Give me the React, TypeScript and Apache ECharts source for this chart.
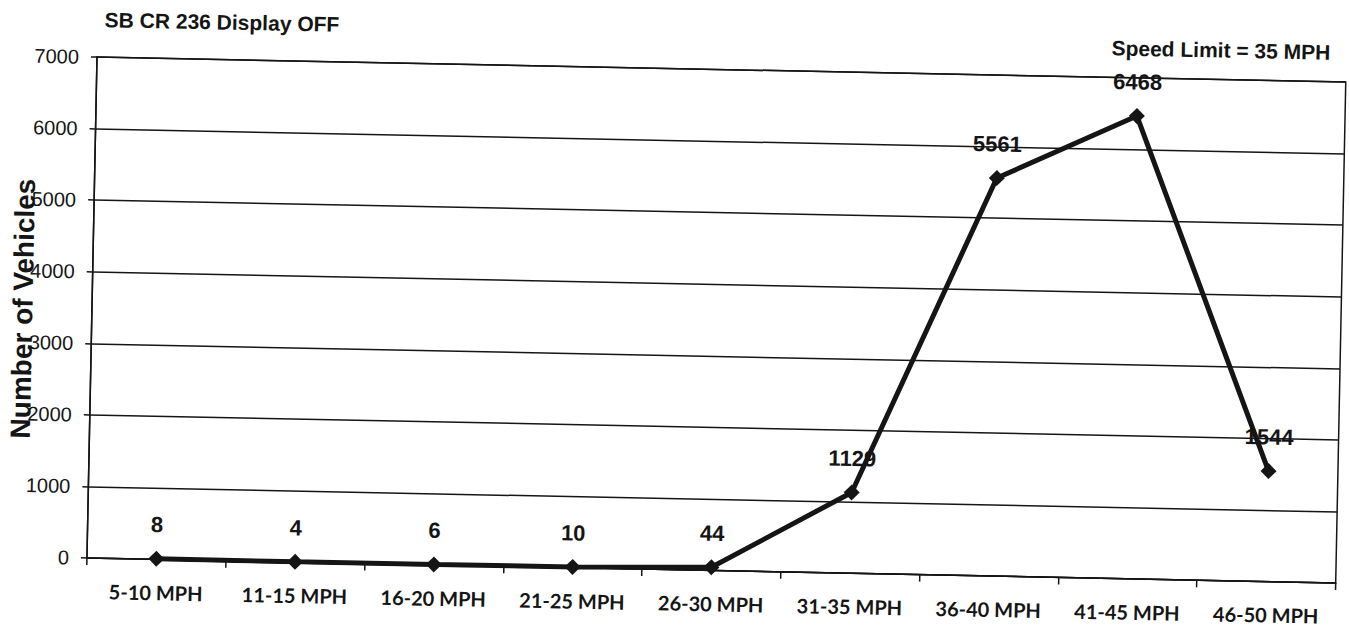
import React, { useEffect, useRef } from "react";
import * as echarts from "echarts";

const categories = [
  "5-10 MPH",
  "11-15 MPH",
  "16-20 MPH",
  "21-25 MPH",
  "26-30 MPH",
  "31-35 MPH",
  "36-40 MPH",
  "41-45 MPH",
  "46-50 MPH",
];
const vehicleCounts = [8, 4, 6, 10, 44, 1129, 5561, 6468, 1544];
const chartTitle = "SB CR 236 Display OFF";
const speedLimitNote = "Speed Limit = 35 MPH";
const yAxisTitle = "Number of Vehicles";

export default function App() {
  const ref = useRef<HTMLDivElement>(null);

  useEffect(() => {
    if (!ref.current) return;
    const chart = echarts.init(ref.current, undefined, { renderer: "svg" });
    const ink = "#151515";
    chart.setOption({
      animation: false,
      backgroundColor: "#ffffff",
      title: [
        {
          text: chartTitle,
          left: 99,
          top: 4,
          textStyle: { fontFamily: "Liberation Sans", fontWeight: "bold", fontSize: 21, color: ink },
        },
        {
          text: speedLimitNote,
          right: 14,
          top: 12,
          textStyle: { fontFamily: "Liberation Sans", fontWeight: "bold", fontSize: 21, color: ink },
        },
      ],
      graphic: [
        {
          type: "text",
          x: 28,
          y: 310,
          rotation: Math.PI / 2,
          style: {
            text: yAxisTitle,
            fontFamily: "Liberation Sans",
            fontWeight: "bold",
            fontSize: 28,
            fill: ink,
            align: "center",
            verticalAlign: "middle",
          },
        },
      ],
      grid: {
        left: 97,
        top: 57,
        width: 1249,
        height: 501,
        outerBoundsMode: "none",
        containLabel: false,
        show: true,
        borderColor: ink,
        borderWidth: 1.5,
        backgroundColor: "transparent",
      },
      xAxis: {
        type: "category",
        data: categories,
        boundaryGap: true,
        axisLine: { show: true, lineStyle: { color: ink, width: 1.5 } },
        axisTick: { show: true, alignWithLabel: false, length: 7, lineStyle: { color: ink, width: 1.5 } },
        axisLabel: {
          fontFamily: "Lato",
          fontWeight: "bold",
          fontSize: 20,
          color: ink,
          margin: 23,
          interval: 0,
        },
      },
      yAxis: {
        type: "value",
        min: 0,
        max: 7000,
        interval: 1000,
        axisLine: { show: true, lineStyle: { color: ink, width: 1.5 } },
        axisTick: { show: true, length: 6, lineStyle: { color: ink, width: 1.5 } },
        axisLabel: {
          fontFamily: "Liberation Sans",
          fontSize: 20,
          color: ink,
          margin: 18,
          formatter: (v: number) => String(v),
        },
        splitLine: { show: true, lineStyle: { color: ink, width: 1.5 } },
      },
      series: [
        {
          type: "line",
          data: vehicleCounts,
          smooth: false,
          symbol: "diamond",
          symbolSize: 16,
          lineStyle: { color: ink, width: 5 },
          itemStyle: { color: ink },
          label: {
            show: true,
            position: "top",
            distance: 15,
            fontFamily: "Liberation Sans",
            fontWeight: "bold",
            fontSize: 22,
            color: ink,
          },
        },
      ],
    });
    return () => chart.dispose();
  }, []);

  return (
    <div
      style={{
        position: "fixed",
        left: 0,
        top: 0,
        width: 1349,
        height: 630,
        background: "#ffffff",
        overflow: "hidden",
      }}
    >
      <div
        ref={ref}
        style={{
          width: 1349,
          height: 630,
          transform: "rotate(1.15deg)",
          transformOrigin: "97px 57px",
        }}
      />
    </div>
  );
}
